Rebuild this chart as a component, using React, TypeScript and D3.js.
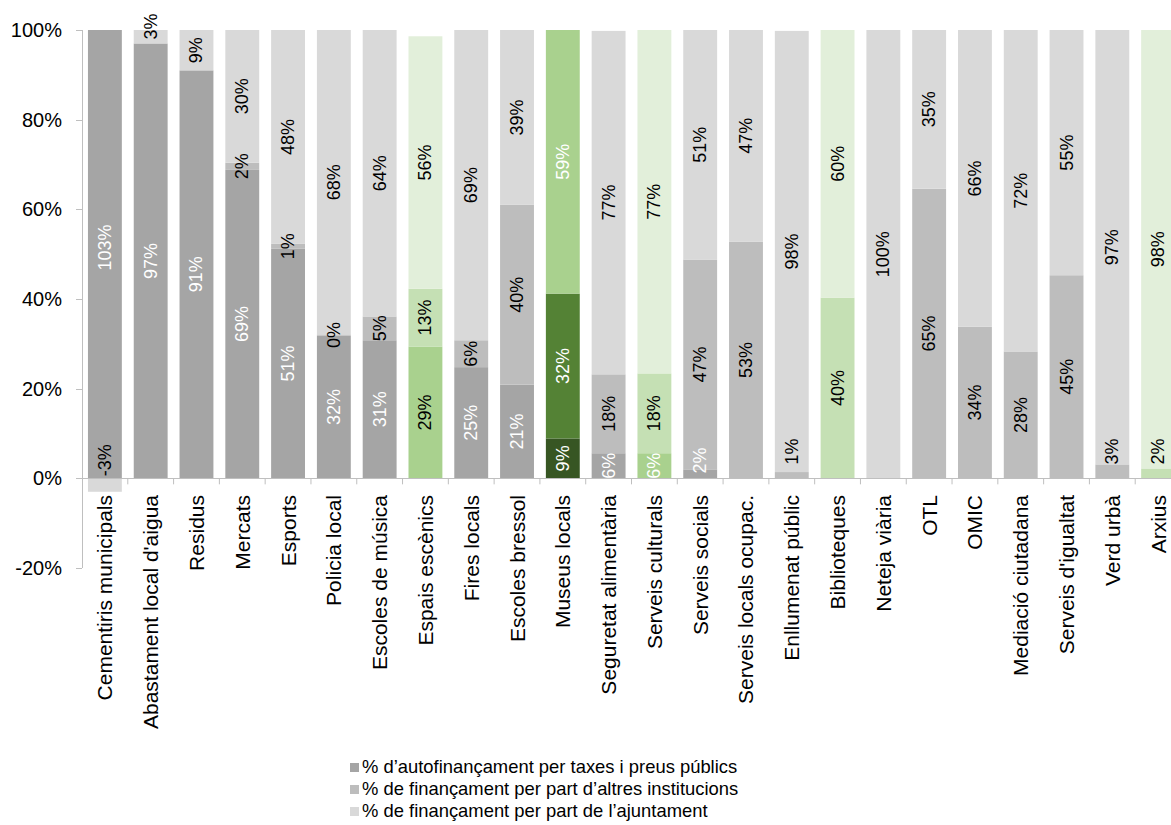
import React from 'react';
import * as d3 from 'd3';

const categories = [
  'Cementiris municipals', "Abastament local d'aigua", 'Residus', 'Mercats', 'Esports',
  'Policia local', 'Escoles de música', 'Espais escènics', 'Fires locals', 'Escoles bressol',
  'Museus locals', 'Seguretat alimentària', 'Serveis culturals', 'Serveis socials',
  'Serveis locals ocupac.', 'Enllumenat públic', 'Biblioteques', 'Neteja viària', 'OTL',
  'OMIC', 'Mediació ciutadana', "Serveis d'igualtat", 'Verd urbà', 'Arxius',
];
const autofinancament = [103, 97, 91, 68.8, 51.2, 31.8, 30.8, 29.4, 24.8, 20.9, 8.9, 5.6, 5.6, 2.0, 0, 0, 0, 0, 0, 0, 0, 0, 0, 0];
const altresInstitucions = [0, 0, 0, 1.6, 1.1, 0.3, 5.3, 12.9, 6.0, 40.1, 32.3, 17.6, 17.8, 46.8, 52.8, 1.4, 40.3, 0, 64.6, 33.8, 28.3, 45.3, 3.1, 2.2];
const ajuntament = [-3, 3, 9, 29.6, 47.7, 67.9, 63.9, 56.3, 69.2, 39.0, 58.8, 76.6, 76.6, 51.2, 47.2, 98.4, 59.7, 100, 35.4, 66.2, 71.7, 54.7, 96.9, 97.8];
const yTicks = [-20, 0, 20, 40, 60, 80, 100];
const seriesNames = [
  '% d’autofinançament per taxes i preus públics',
  '% de finançament per part d’altres institucions',
  '% de finançament per part de l’ajuntament',
];

// styles
const greyFill = ['#A5A5A5', '#BDBDBD', '#D9D9D9'];
const greyText = ['#FFFFFF', '#000000', '#000000'];
const specialFill: Record<string, string[]> = {
  'Espais escènics': ['#A9D18E', '#C5E0B4', '#E2EFDA'],
  'Museus locals': ['#375623', '#548235', '#A9D18E'],
  'Serveis culturals': ['#A9D18E', '#C5E0B4', '#E2EFDA'],
  'Biblioteques': ['#A9D18E', '#C5E0B4', '#E2EFDA'],
  'Arxius': ['#A9D18E', '#C5E0B4', '#E2EFDA'],
};
const specialText: Record<string, string[]> = {
  'Espais escènics': ['#000000', '#000000', '#000000'],
  'Museus locals': ['#FFFFFF', '#FFFFFF', '#FFFFFF'],
};

const W = 1171, H = 825;
const FONT = '"Liberation Sans", Arial, sans-serif';
const LABEL_FS = 18;

export default function App() {
  const keys = ['auto', 'altres', 'ajunt'];
  const rows = categories.map((c, i) => ({
    cat: c, auto: autofinancament[i], altres: altresInstitucions[i], ajunt: ajuntament[i],
  }));
  const stack = d3.stack<any>().keys(keys).offset(d3.stackOffsetDiverging);
  const series = stack(rows);

  const x = d3.scaleBand<string>().domain(categories).range([82, 1181]).paddingInner(0.26).paddingOuter(0.13);
  const y = d3.scaleLinear().domain([-20, 100]).range([568, 30]);
  const step = x.step();
  const axisColor = '#BFBFBF';

  return (
    <svg width={W} height={H} style={{ position: 'absolute', left: 0, top: 0, background: '#fff' }} fontFamily={FONT}>
      <defs>
        <clipPath id="plot"><rect x={82} y={y(100)} width={1200} height={y(-20) - y(100)} /></clipPath>
      </defs>
      {/* y axis */}
      <line x1={82.5} x2={82.5} y1={y(100)} y2={y(-20)} stroke={axisColor} />
      {yTicks.map(t => (
        <g key={t}>
          <line x1={76} x2={82} y1={Math.round(y(t)) + 0.5} y2={Math.round(y(t)) + 0.5} stroke={axisColor} />
          <text x={62} y={y(t)} textAnchor="end" dominantBaseline="central" fontSize={20} fill="#000">{t}%</text>
        </g>
      ))}
      {/* bars */}
      <g clipPath="url(#plot)">
        {series.map((s, si) => s.map((d, i) => {
          const cat = categories[i];
          const fill = (specialFill[cat] || greyFill)[si];
          const y0 = Math.min(d[0], d[1]), y1 = Math.max(d[0], d[1]);
          if (y1 - y0 <= 0) return null;
          return <rect key={`${si}-${i}`} x={x(cat)} width={x.bandwidth()} y={y(y1)} height={y(y0) - y(y1)} fill={fill} />;
        }))}
      </g>
      {/* x axis */}
      <line x1={82} x2={W} y1={Math.round(y(0)) + 0.5} y2={Math.round(y(0)) + 0.5} stroke={axisColor} />
      {categories.map((c, i) => (
        <line key={c} x1={82 + (i + 1) * step} x2={82 + (i + 1) * step} y1={y(0)} y2={y(0) + 6} stroke={axisColor} />
      ))}
      {categories.map(c => {
        const cx = (x(c) as number) + x.bandwidth() / 2;
        return (
          <text key={c} transform={`translate(${cx},${495}) rotate(-90)`} textAnchor="end" dominantBaseline="central" fontSize={21} fill="#000">{c}</text>
        );
      })}
      {/* data labels */}
      {series.map((s, si) => s.map((d, i) => {
        const cat = categories[i];
        const v = rows[i][keys[si] as 'auto'];
        if (!v) return null;
        const color = (specialText[cat] || greyText)[si];
        const cx = (x(cat) as number) + x.bandwidth() / 2;
        const label = `${Math.round(v)}%`;
        if (v < 0) {
          return <text key={`l${si}-${i}`} transform={`translate(${cx},${y(0) - 2}) rotate(-90)`} textAnchor="start" dominantBaseline="central" fontSize={LABEL_FS} fill={color}>{label}</text>;
        }
        const half = label.length * LABEL_FS * 0.33;
        const segH = y(d[0]) - y(d[1]);
        let cy = y((d[0] + d[1]) / 2);
        if (segH < half * 2) {
          if (d[0] === 0) {
            cy = y(0) - half - (si === 0 ? 6 : 15);
          } else if (si === 2) {
            cy = y(d[0]) - half - 5;
          }
        }
        return <text key={`l${si}-${i}`} transform={`translate(${cx},${cy}) rotate(-90)`} textAnchor="middle" dominantBaseline="central" fontSize={LABEL_FS} fill={color}>{label}</text>;
      }))}
      {/* legend */}
      {seriesNames.map((n, i) => (
        <g key={n} transform={`translate(350,${766 + i * 22})`}>
          <rect x={0} y={-3} width={9} height={9} fill={greyFill[i]} />
          <text x={12} y={0} dominantBaseline="central" fontSize={18.4} fill="#000">{n}</text>
        </g>
      ))}
    </svg>
  );
}
